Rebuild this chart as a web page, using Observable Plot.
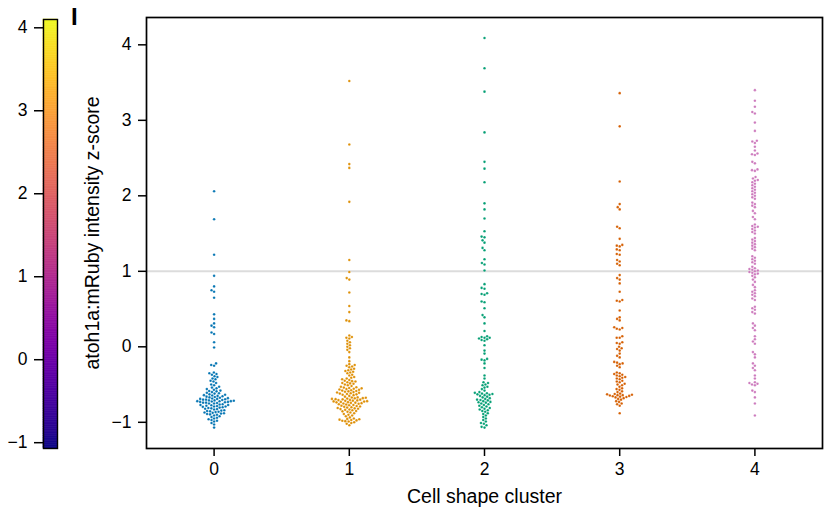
<!DOCTYPE html>
<html>
<head>
<meta charset="utf-8">
<script src="https://cdn.jsdelivr.net/npm/d3@7"></script>
<script src="https://cdn.jsdelivr.net/npm/@observablehq/plot@0.6"></script>
<style>
  html, body { margin: 0; padding: 0; background: #fff; }
  #wrap { position: relative; width: 825px; height: 517px; font-family: "Liberation Sans", Arial, sans-serif; color: #000; }
  #wrap svg { position: absolute; left: 0; top: 0; background: transparent; font-family: "Liberation Sans", Arial, sans-serif; color: #000; }
  #panel { position: absolute; left: 71px; top: 5px; font-size: 24px; font-weight: bold; line-height: 1; }
</style>
</head>
<body>
<div id="wrap"><div id="panel">I</div></div>
<script>
// ---------------- data ----------------
const clusters = [0, 1, 2, 3, 4];
const clusterColors = ["#0173B2", "#DE8F05", "#029E73", "#D55E00", "#CC78BC"];
const yTicks = [-1, 0, 1, 2, 3, 4];
const thresholdLine = [1];
const colorbarDomain = [-1.07, 4.1];
const xLabel = "Cell shape cluster";
const yLabel = "atoh1a:mRuby intensity z-score";

const c0 = [2.06, 1.69, 1.22, 0.94, 0.80, 0.75, 0.73, 0.65, 0.43, 0.37, 0.31, 0.28, 0.26, 0.19, 0.17, 0.06, -0.01,
  -0.22, -0.24, -0.25,
  -0.34, -0.35, -0.36, -0.37, -0.39, -0.40, -0.42, -0.43,
  -0.45, -0.46, -0.48, -0.50, -0.51, -0.53,
  -0.54, -0.55, -0.56, -0.57, -0.58, -0.585, -0.59, -0.60, -0.61,
  -0.615, -0.62, -0.63, -0.635, -0.64, -0.645, -0.65, -0.655, -0.66, -0.665, -0.67, -0.675, -0.68, -0.685,
  -0.69, -0.69, -0.695, -0.70, -0.70, -0.705, -0.71, -0.71, -0.715, -0.72, -0.72, -0.722, -0.725, -0.73, -0.73, -0.735, -0.74, -0.74, -0.745, -0.75, -0.75, -0.76,
  -0.765, -0.77, -0.77, -0.775, -0.78, -0.785, -0.79, -0.79, -0.795, -0.80, -0.805, -0.81, -0.815, -0.82, -0.825, -0.83, -0.84,
  -0.845, -0.85, -0.855, -0.86, -0.865, -0.87, -0.875, -0.88, -0.885, -0.89, -0.895, -0.90, -0.91, -0.92,
  -0.93, -0.94, -0.95, -0.96, -0.97, -0.98,
  -0.99, -1.01, -1.03, -1.07];

const c1 = [3.52, 2.68, 2.42, 2.37, 1.92, 1.15, 0.99, 0.91, 0.89, 0.72, 0.54, 0.46, 0.35, 0.34,
  0.15, 0.13, 0.12, 0.11,
  0.08, 0.06, 0.04, 0.02, 0.00, -0.02, -0.04, -0.07,
  -0.14, -0.19,
  -0.23, -0.24, -0.25, -0.26, -0.27,
  -0.29, -0.30, -0.31, -0.32, -0.33, -0.34, -0.35, -0.37, -0.38, -0.40,
  -0.41, -0.42, -0.43, -0.44, -0.45, -0.455, -0.46, -0.47, -0.48, -0.485, -0.49, -0.50, -0.51, -0.52, -0.53,
  -0.535, -0.54, -0.545, -0.55, -0.555, -0.56, -0.565, -0.57, -0.575, -0.58, -0.585, -0.59, -0.595, -0.60, -0.605, -0.61, -0.615, -0.62, -0.625, -0.63, -0.635, -0.64, -0.65, -0.66, -0.67,
  -0.672, -0.675, -0.68, -0.683, -0.686, -0.69, -0.693, -0.696, -0.70, -0.703, -0.706, -0.71, -0.713, -0.716, -0.72, -0.723, -0.726, -0.73, -0.733, -0.736, -0.74, -0.743, -0.746, -0.75, -0.755, -0.76, -0.765, -0.77, -0.775, -0.78,
  -0.785, -0.79, -0.795, -0.80, -0.805, -0.81, -0.815, -0.82, -0.825, -0.83, -0.835, -0.84, -0.85, -0.855, -0.86, -0.87, -0.88, -0.89,
  -0.90, -0.91, -0.92, -0.935, -0.95,
  -0.955, -0.96, -0.965, -0.97, -0.975, -0.98, -0.985, -0.99, -1.00, -1.01, -1.02, -1.04];

const c2 = [4.09, 3.69, 3.38, 2.84, 2.45, 2.36, 2.18, 1.90, 1.82, 1.70, 1.53, 1.46, 1.45, 1.41, 1.38, 1.31, 1.28, 1.16, 1.11, 1.09, 1.01,
  0.83, 0.78, 0.77, 0.71, 0.70, 0.69, 0.60, 0.59, 0.51, 0.42, 0.39, 0.31, 0.21,
  0.14, 0.13, 0.12, 0.12, 0.11, 0.10, 0.09, 0.08,
  0.02, -0.05, -0.09, -0.16, -0.17, -0.18, -0.22, -0.28, -0.38, -0.42,
  -0.47, -0.48, -0.50, -0.51, -0.53,
  -0.54, -0.56, -0.58, -0.60,
  -0.61, -0.615, -0.62, -0.625, -0.63, -0.635, -0.64, -0.65, -0.66, -0.67,
  -0.68, -0.69, -0.70, -0.705, -0.71, -0.72, -0.73, -0.735, -0.74, -0.75, -0.76, -0.77, -0.78, -0.79, -0.80,
  -0.81, -0.82, -0.83, -0.84, -0.85, -0.86, -0.88, -0.89, -0.91, -0.93,
  -0.95, -0.97, -0.99, -1.01, -1.02, -1.04, -1.06, -1.07];

const c3 = [3.36, 2.92, 2.19, 1.89, 1.85, 1.82, 1.59, 1.57, 1.43, 1.35, 1.34, 1.33, 1.29, 1.28, 1.23, 1.22, 1.15, 1.13, 1.10, 1.08,
  0.95, 0.91, 0.89, 0.84, 0.73, 0.62, 0.61, 0.60, 0.48, 0.39, 0.37, 0.35, 0.26, 0.25, 0.24, 0.23, 0.14, 0.12, 0.12, 0.06, 0.05, 0.04,
  0.00, -0.02, -0.03, -0.05, -0.09, -0.12, -0.14,
  -0.20, -0.21, -0.22, -0.23, -0.25, -0.27,
  -0.34, -0.35, -0.36, -0.37, -0.38, -0.39, -0.40, -0.41,
  -0.42, -0.43, -0.45, -0.46, -0.47, -0.49, -0.50, -0.51,
  -0.53, -0.55, -0.56, -0.57, -0.59, -0.60,
  -0.62, -0.625, -0.63, -0.635, -0.64, -0.64, -0.645, -0.65, -0.655, -0.66, -0.665, -0.67,
  -0.68, -0.69, -0.70, -0.72, -0.73, -0.75, -0.76, -0.78, -0.88];

const c4 = [3.40, 3.26, 3.18, 3.11, 3.09, 2.97, 2.86, 2.73, 2.72, 2.70, 2.65, 2.60, 2.56, 2.55, 2.54, 2.45, 2.43, 2.35, 2.34, 2.33,
  2.25, 2.23, 2.21, 2.20, 2.18, 2.16, 2.14, 2.12, 2.10, 2.08, 2.06, 2.04, 2.02, 2.00, 1.98, 1.96,
  1.91, 1.89, 1.87, 1.85, 1.80, 1.77, 1.72, 1.69,
  1.62, 1.60, 1.59, 1.58, 1.56, 1.54, 1.52, 1.50,
  1.44, 1.42, 1.40, 1.38, 1.36, 1.34, 1.32, 1.30, 1.28,
  1.20, 1.18, 1.16, 1.14, 1.12, 1.10,
  1.06, 1.04, 1.03, 1.02, 1.01, 1.00, 0.99, 0.98, 0.97, 0.96, 0.94, 0.92, 0.89, 0.86, 0.82, 0.79,
  0.75, 0.73, 0.71, 0.69, 0.67, 0.64, 0.62,
  0.53, 0.51, 0.49, 0.46, 0.44,
  0.31, 0.28, 0.25, 0.22,
  0.14, 0.10, 0.07, 0.04,
  -0.07, -0.10, -0.14,
  -0.22, -0.25, -0.28, -0.31,
  -0.38, -0.42,
  -0.47, -0.48, -0.49, -0.50, -0.51,
  -0.58, -0.60,
  -0.67, -0.75, -0.91];

const clusterValues = [c0, c1, c2, c3, c4];

// ---------------- layout ----------------
const W = 825, H = 517;
const M = {top: 17, right: 3, bottom: 69, left: 146};
const xDomain = [-0.5, 4.5];
const yDomain = [-1.347, 4.362];
const pxPerX = (W - M.left - M.right) / (xDomain[1] - xDomain[0]);
const pxPerY = (H - M.top - M.bottom) / (yDomain[1] - yDomain[0]);
const dotR = 1.3;
const swarmGap = 3.0; // center-to-center spacing in px
const intFmt = d => (d < 0 ? "\u2212" : "") + Math.abs(d);

// beeswarm (like seaborn's swarmplot): place each point, sorted by value, at the free position closest to the category center
function swarm(values, cluster) {
  const pts = values.map(v => ({v, py: v * pxPerY})).sort((a, b) => a.py - b.py);
  const placed = [];
  const d2 = swarmGap * swarmGap;
  for (const p of pts) {
    const near = placed.filter(q => Math.abs(q.py - p.py) < swarmGap);
    const cands = [0];
    for (const q of near) {
      const dx = Math.sqrt(d2 - (q.py - p.py) ** 2);
      cands.push(q.px + dx, q.px - dx);
    }
    cands.sort((a, b) => Math.abs(a) - Math.abs(b) || a - b);
    p.px = cands[cands.length - 1];
    for (const c of cands) {
      if (near.every(q => (q.px - c) ** 2 + (q.py - p.py) ** 2 >= d2 - 1e-6)) { p.px = c; break; }
    }
    placed.push(p);
  }
  return pts.map(p => ({cluster, value: p.v, x: cluster + p.px / pxPerX}));
}

const points = clusters.flatMap((c, i) => swarm(clusterValues[i], c));

const main = Plot.plot({
  width: W, height: H,
  marginTop: M.top, marginRight: M.right, marginBottom: M.bottom, marginLeft: M.left,
  style: {background: "transparent", color: "#000", fontFamily: "'Liberation Sans', Arial, sans-serif"},
  x: {domain: xDomain},
  y: {domain: yDomain},
  color: {type: "ordinal", domain: clusters, range: clusterColors},
  marks: [
    Plot.ruleY(thresholdLine, {stroke: "#dcdcdc", strokeWidth: 2}),
    Plot.dot(points, {x: "x", y: "value", r: dotR, fill: "cluster", stroke: "white", strokeWidth: 0.2}),
    Plot.frame({stroke: "#000", strokeWidth: 1.7}),
    Plot.axisX({ticks: clusters, tickSize: 8, tickPadding: 6, fontSize: 17.5, strokeWidth: 1.5, label: null, tickFormat: intFmt}),
    Plot.axisY({ticks: yTicks, tickSize: 8, tickPadding: 7, fontSize: 17.5, strokeWidth: 1.5, label: null, tickFormat: intFmt}),
    Plot.text([xLabel], {text: d => d, frameAnchor: "bottom", dy: 48, fontSize: 19.5, lineAnchor: "middle", textAnchor: "middle"}),
    Plot.text([yLabel], {text: d => d, frameAnchor: "left", rotate: -90, dx: -54, fontSize: 19.5, lineAnchor: "middle", textAnchor: "middle"})
  ]
});

const nBands = 240;
const step = (colorbarDomain[1] - colorbarDomain[0]) / nBands;
const bands = d3.range(nBands).map(i => ({lo: colorbarDomain[0] + i * step, hi: colorbarDomain[0] + (i + 1) * step}));

const colorbar = Plot.plot({
  width: 70, height: H,
  marginTop: 19, marginBottom: 69, marginLeft: 43, marginRight: 13,
  style: {background: "transparent", color: "#000", fontFamily: "'Liberation Sans', Arial, sans-serif"},
  y: {domain: colorbarDomain},
  color: {type: "linear", scheme: "plasma", domain: colorbarDomain},
  marks: [
    Plot.rect(bands, {y1: "lo", y2: "hi", fill: d => (d.lo + d.hi) / 2, stroke: d => (d.lo + d.hi) / 2, strokeWidth: 0.6}),
    Plot.frame({stroke: "#000", strokeWidth: 1.4}),
    Plot.axisY({ticks: yTicks, tickSize: 9, tickPadding: 7, fontSize: 17.5, strokeWidth: 1.5, label: null, tickFormat: intFmt})
  ]
});

const wrap = document.getElementById("wrap");
wrap.appendChild(main);
wrap.appendChild(colorbar);
</script>
</body>
</html>
